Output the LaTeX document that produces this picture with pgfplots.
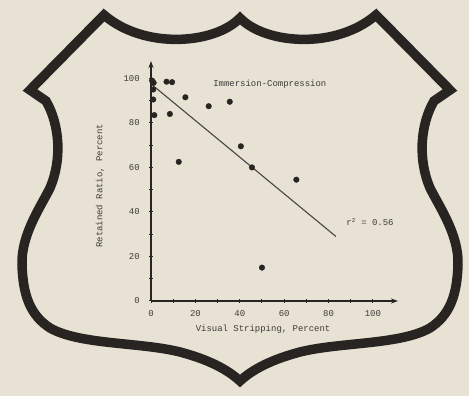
\documentclass[border=0pt]{standalone}
\usepackage{fontspec}
\usepackage{pgfplots}
\pgfplotsset{compat=1.18}
\usetikzlibrary{arrows.meta}
\newfontfamily\mono{Liberation Mono}
\definecolor{bg}{RGB}{232,226,212}
\definecolor{ink}{RGB}{40,36,33}
\definecolor{txt}{RGB}{62,60,56}
\begin{document}
\begin{tikzpicture}
\fill[bg] (0,0) rectangle (469bp,396bp);
\begin{scope}[shift={(0bp,396bp)}, x=1bp, y=-1bp]
\draw[ink, line width=9.5bp, line join=miter]
 (240,18) .. controls (265,44) and (335,50) .. (376,15)
 -- (450,90) -- (434,101)
 .. controls (420,125) and (418,160) .. (430,188)
 .. controls (440,208) and (459,235) .. (458,265)
 .. controls (457,295) and (450,315) .. (430,328)
 .. controls (400,345) and (340,342) .. (300,352)
 .. controls (270,360) and (252,370) .. (240,381)
 .. controls (228,370) and (210,360) .. (180,352)
 .. controls (140,342) and (80,345) .. (50,328)
 .. controls (30,315) and (23,295) .. (22,265)
 .. controls (21,235) and (40,208) .. (50,188)
 .. controls (62,160) and (60,125) .. (46,101)
 -- (30,90) -- (104,15)
 .. controls (145,50) and (215,44) .. (240,18) -- cycle;
\end{scope}
\begin{axis}[
  at={(151bp,95bp)}, anchor=south west,
  scale only axis, width=247bp, height=240bp,
  xmin=0, xmax=111.3, ymin=0, ymax=107.8,
  axis lines=left, clip=false,
  axis line style={ink, line width=1.6bp, -{Stealth[length=7bp,width=5bp]}},
  xtick={0,20,...,100}, ytick={0,20,...,100},
  minor xtick={10,30,50,70,90}, minor ytick={10,30,50,70,90},
  tick style={ink, line width=1bp},
  major tick length=3.5bp, minor tick length=3.5bp, tick align=center,
  /pgf/number format/assume math mode=true,
  ticklabel style={font=\mono\fontsize{9}{10}\selectfont, text=txt},
  yticklabel style={xshift=-6bp},
  xticklabel style={yshift=-4bp},
  xlabel={Visual Stripping, Percent},
  ylabel={Retained Ratio, Percent},
  label style={font=\mono\fontsize{9}{10}\selectfont, text=txt},
  xlabel style={at={(axis description cs:0.4537,-0.1167)}, anchor=center},
  ylabel style={at={(axis description cs:-0.2065,0.48)}, anchor=center},
]
\addplot[only marks, mark=*, mark size=2.8bp, ink] coordinates {
 (0.5,99) (1.2,98) (7,98.5) (9.5,98.3) (1,95) (1,90.5) (1.5,83.5)
 (8.5,84) (15.5,91.5) (26,87.5) (35.5,89.5) (12.5,62.5) (40.5,69.5)
 (45.5,60) (50,15) (65.5,54.5)
};
\addplot[ink!85, line width=1.1bp] coordinates {(0,97.5) (83.3,29)};
\node[anchor=west, font=\mono\fontsize{9}{10}\selectfont, text=txt] at (axis cs:26.5,97.4) {Immersion-Compression};
\node[anchor=west, font=\mono\fontsize{9}{10}\selectfont, text=txt] at (axis cs:86.5,35.5) {r\textsuperscript{2} = 0.56};
\end{axis}
\pgfresetboundingbox
\path[use as bounding box] (0,0) rectangle (469bp,396bp);
\end{tikzpicture}
\end{document}
